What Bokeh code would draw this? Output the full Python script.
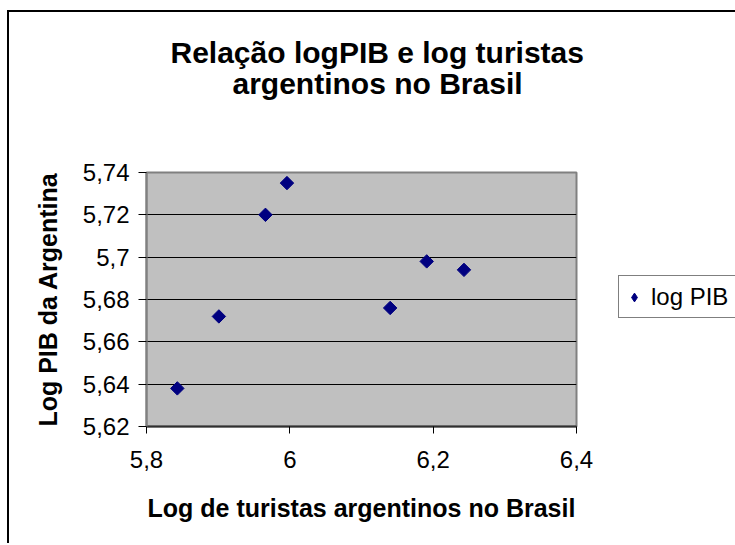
from math import pi
from bokeh.plotting import figure
from bokeh.models import FixedTicker, Title, Legend, LegendItem
from bokeh.embed import file_html
from bokeh.resources import INLINE

# ---- data ----
log_turistas = [5.843, 5.901, 5.966, 5.996, 6.140, 6.191, 6.243]
log_pib = [5.638, 5.672, 5.720, 5.735, 5.676, 5.698, 5.694]
x_ticks = [5.8, 6.0, 6.2, 6.4]
x_tick_labels = ["5,8", "6", "6,2", "6,4"]
y_ticks = [5.62, 5.64, 5.66, 5.68, 5.70, 5.72, 5.74]
y_tick_labels = ["5,62", "5,64", "5,66", "5,68", "5,7", "5,72", "5,74"]
title_lines = ["Relação logPIB e log turistas", "argentinos no Brasil"]
x_title = "Log de turistas argentinos no Brasil"
y_title = "Log PIB da Argentina"
series_name = "log PIB"

NAVY = "#000080"
FONT = "Liberation Sans"

p = figure(
    frame_width=430, frame_height=254,
    x_range=(x_ticks[0], x_ticks[-1]), y_range=(y_ticks[0], y_ticks[-1]),
    output_backend="svg", toolbar_location=None,
    min_border_left=137, min_border_right=157,
    min_border_top=160, min_border_bottom=117,
    background_fill_color="#C0C0C0", border_fill_color="white",
    outline_line_color="#808080", outline_line_width=2,
)
p.styles = {"border-left": "2px solid black", "border-top": "2px solid black",
            "margin-left": "7px", "margin-top": "10px"}

# markers: a diamond renderer (used for the legend key) under rotated squares
legend_key = p.scatter(x=log_turistas, y=log_pib, marker="diamond", size=9,
                       fill_color=NAVY, line_color=NAVY)
p.scatter(x=log_turistas, y=log_pib, marker="square", angle=pi / 4, size=9.5,
          fill_color=NAVY, line_color=NAVY)

# axes
p.xaxis.ticker = FixedTicker(ticks=x_ticks)
p.yaxis.ticker = FixedTicker(ticks=y_ticks)
p.xaxis.major_label_overrides = dict(zip(x_ticks, x_tick_labels))
p.yaxis.major_label_overrides = dict(zip(y_ticks, y_tick_labels))
for ax in (p.xaxis[0], p.yaxis[0]):
    ax.minor_tick_line_color = None
    ax.major_tick_in = 0
    ax.major_tick_line_color = "black"
    ax.major_label_text_font = FONT
    ax.major_label_text_font_size = "24px"
    ax.major_label_text_color = "black"
    ax.axis_label_text_font = FONT
    ax.axis_label_text_font_size = "25px"
    ax.axis_label_text_font_style = "bold"
    ax.axis_label_text_color = "black"
p.xaxis.axis_label = x_title
p.yaxis.axis_label = y_title
p.xaxis.major_tick_out = 7
p.yaxis.major_tick_out = 8
p.xaxis.axis_line_color = "#303030"
p.xaxis.axis_line_width = 2
p.yaxis.axis_line_color = "#808080"
p.yaxis.axis_line_width = 2
p.xaxis.major_label_standoff = 17
p.yaxis.major_label_standoff = 9
p.xaxis.axis_label_standoff = 23
p.yaxis.axis_label_standoff = 18

p.xgrid.visible = False
p.ygrid.grid_line_color = "black"
p.ygrid.grid_line_width = 1

# title: spacer panel next to the frame, then the two title lines
p.add_layout(Title(text=" ", text_font_size="10px", standoff=60), "above")
for txt, off, so in zip(reversed(title_lines), [86, 24], [0, -8]):
    p.add_layout(Title(text=txt, align="left", offset=off, standoff=so,
                       text_font=FONT, text_font_size="30px",
                       text_font_style="bold", text_color="black"), "above")

# legend, placed to the right of the frame (its right edge runs off the chart)
legend = Legend(
    items=[LegendItem(label=series_name, renderers=[legend_key])],
    location=(42, 108),
    label_text_font=FONT, label_text_font_size="24px", label_text_color="black",
    glyph_width=22, glyph_height=24, label_height=33, label_width=92,
    label_standoff=6, padding=4, spacing=0, margin=0,
    border_line_color="black", border_line_width=1,
    background_fill_color="white", background_fill_alpha=1,
)
p.add_layout(legend, "right")

open("out.html", "w").write(file_html(p, INLINE))
